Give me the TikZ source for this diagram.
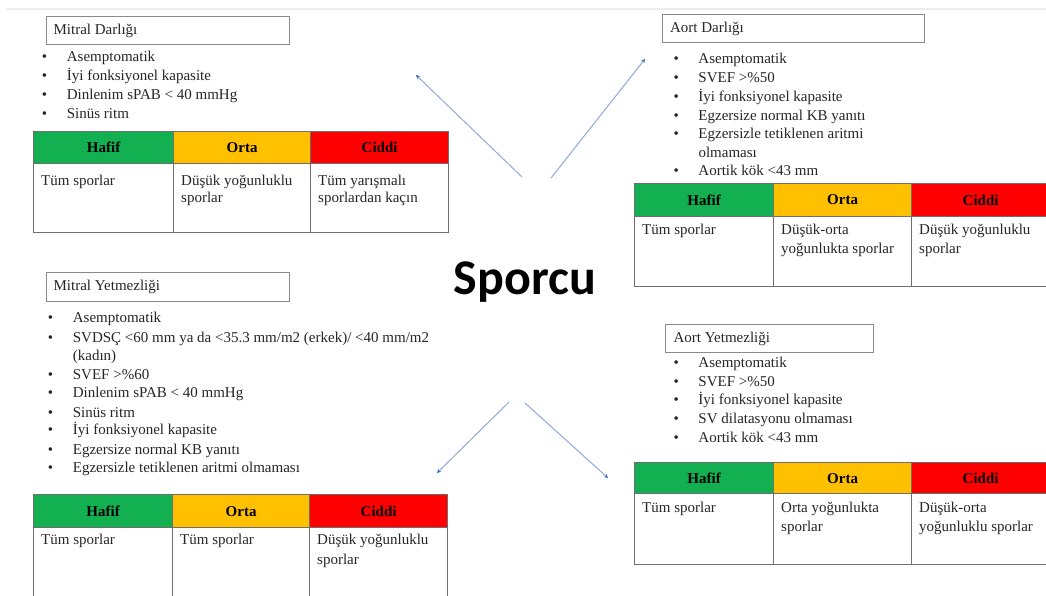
\documentclass[tikz,border=0pt]{standalone}
\usepackage{fontspec}
\setmainfont{Liberation Serif}
\newfontfamily\sporcufont{Carlito}
\usetikzlibrary{arrows.meta}
\definecolor{hgreen}{HTML}{12B050}
\definecolor{horange}{HTML}{FFC000}
\definecolor{hred}{HTML}{FF0000}
\definecolor{gridc}{HTML}{6E6E6E}
\definecolor{boxc}{HTML}{8A8A8A}
\definecolor{arrowc}{HTML}{8EA9DB}
\definecolor{tipc}{HTML}{3E6BC4}
\definecolor{topline}{HTML}{ECECEC}
\newcommand\bitem[1]{\makebox[25pt][l]{•}#1}
\tikzset{
  body/.style={font=\fontsize{15}{19}\selectfont, inner sep=0pt, anchor=base west, text=black!85},
  titlebox/.style={draw=boxc, line width=1.3pt, anchor=north west, inner xsep=7pt, inner ysep=0pt,
    text=black!85, font=\fontsize{15}{18}\selectfont},
  hdr/.style={draw=gridc, line width=1.2pt, anchor=north west, inner sep=0pt,
    font=\bfseries\fontsize{15}{18}\selectfont, text=black},
  cell/.style={draw=gridc, line width=1.2pt, anchor=north west, inner sep=0pt},
  link/.style={draw=arrowc, line width=1pt, -{Stealth[length=4pt,width=4pt,color=tipc]}},
}
\begin{document}
\begin{tikzpicture}[x=1pt,y=-1pt]
\useasboundingbox (0,0) rectangle (1046,595);
\clip (0,0) rectangle (1046,595);
\fill[white] (0,0) rectangle (1046,595);

% faint top line
\coordinate (tl1) at (7,9);
\coordinate (tl2) at (1046,9);
\draw[topline, line width=1.5pt] (tl1) -- (tl2);

% centre
\node[font=\sporcufont\bfseries\fontsize{50}{60}\selectfont, anchor=base, inner sep=0pt] (sporcu) at (525,294) {Sporcu};

% ---------------- Mitral Darligi ----------------
\node[titlebox, minimum width=243pt, minimum height=28pt] (mdT) at (46,16) {\makebox[229pt][l]{Mitral Darlığı}};
\node[body] (md1) at (41.7,61) {\bitem{Asemptomatik}};
\node[body] (md2) at (41.7,80) {\bitem{İyi fonksiyonel kapasite}};
\node[body] (md3) at (41.7,99) {\bitem{Dinlenim sPAB < 40 mmHg}};
\node[body] (md4) at (41.7,118) {\bitem{Sinüs ritm}};
\node[hdr, fill=hgreen, minimum width=140pt, minimum height=32pt] (mdH1) at (33,131) {Hafif};
\node[hdr, fill=horange, minimum width=137pt, minimum height=32pt] (mdH2) at (173,131) {Orta};
\node[hdr, fill=hred, minimum width=138pt, minimum height=32pt] (mdH3) at (310,131) {Ciddi};
\node[cell, minimum width=140pt, minimum height=69pt] (mdB1) at (33,163) {};
\node[cell, minimum width=137pt, minimum height=69pt] (mdB2) at (173,163) {};
\node[cell, minimum width=138pt, minimum height=69pt] (mdB3) at (310,163) {};
\node[body] (mdt1) at (41,185.5) {Tüm sporlar};
\node[body] (mdt2a) at (181,185.5) {Düşük yoğunluklu};
\node[body] (mdt2b) at (181,202.5) {sporlar};
\node[body] (mdt3a) at (318,185.5) {Tüm yarışmalı};
\node[body] (mdt3b) at (318,202.5) {sporlardan kaçın};

% ---------------- Aort Darligi ----------------
\node[titlebox, minimum width=262pt, minimum height=28pt, inner xsep=7.5pt] (adT) at (662,14) {\makebox[247pt][l]{Aort Darlığı}};
\node[body] (ad1) at (673.3,63.5) {\bitem{Asemptomatik}};
\node[body] (ad2) at (673.3,82.5) {\bitem{SVEF >\%50}};
\node[body] (ad3) at (673.3,101.5) {\bitem{İyi fonksiyonel kapasite}};
\node[body] (ad4) at (673.3,120.5) {\bitem{Egzersize normal KB yanıtı}};
\node[body] (ad5) at (673.3,138.5) {\bitem{Egzersizle tetiklenen aritmi}};
\node[body] (ad5b) at (698.3,157.5) {olmaması};
\node[body] (ad6) at (673.3,175.5) {\bitem{Aortik kök <43 mm}};
\node[hdr, fill=hgreen, minimum width=139pt, minimum height=33pt] (adH1) at (634,183) {Hafif};
\node[hdr, fill=horange, minimum width=138pt, minimum height=33pt] (adH2) at (773,183) {Orta};
\node[hdr, fill=hred, minimum width=138pt, minimum height=33pt] (adH3) at (911,183) {Ciddi};
\node[cell, minimum width=139pt, minimum height=70pt] (adB1) at (634,216) {};
\node[cell, minimum width=138pt, minimum height=70pt] (adB2) at (773,216) {};
\node[cell, minimum width=138pt, minimum height=70pt] (adB3) at (911,216) {};
\node[body] (adt1) at (642,234.5) {Tüm sporlar};
\node[body] (adt2a) at (781,234.5) {Düşük-orta};
\node[body] (adt2b) at (781,253.5) {yoğunlukta sporlar};
\node[body] (adt3a) at (919,234.5) {Düşük yoğunluklu};
\node[body] (adt3b) at (919,253.5) {sporlar};

% ---------------- Mitral Yetmezligi ----------------
\node[titlebox, minimum width=243pt, minimum height=29pt] (myT) at (46,272) {\makebox[229pt][l]{Mitral Yetmezliği}};
\node[body] (my1) at (47.7,322.5) {\bitem{Asemptomatik}};
\node[body] (my2) at (47.7,342.5) {\bitem{SVDSÇ <60 mm ya da <35.3 mm/m2 (erkek)/ <40 mm/m2}};
\node[body] (my2b) at (72.7,360.5) {(kadın)};
\node[body] (my3) at (47.7,379.5) {\bitem{SVEF >\%60}};
\node[body] (my4) at (47.7,397.5) {\bitem{Dinlenim sPAB < 40 mmHg}};
\node[body] (my5) at (47.7,417.5) {\bitem{Sinüs ritm}};
\node[body] (my6) at (47.7,434.5) {\bitem{İyi fonksiyonel kapasite}};
\node[body] (my7) at (47.7,454.5) {\bitem{Egzersize normal KB yanıtı}};
\node[body] (my8) at (47.7,472.5) {\bitem{Egzersizle tetiklenen aritmi olmaması}};
\node[hdr, fill=hgreen, minimum width=139pt, minimum height=33pt] (myH1) at (33,494) {Hafif};
\node[hdr, fill=horange, minimum width=137pt, minimum height=33pt] (myH2) at (172,494) {Orta};
\node[hdr, fill=hred, minimum width=138pt, minimum height=33pt] (myH3) at (309,494) {Ciddi};
\node[cell, minimum width=139pt, minimum height=90pt] (myB1) at (33,527) {};
\node[cell, minimum width=137pt, minimum height=90pt] (myB2) at (172,527) {};
\node[cell, minimum width=138pt, minimum height=90pt] (myB3) at (309,527) {};
\node[body] (myt1) at (41,544.5) {Tüm sporlar};
\node[body] (myt2) at (180,544.5) {Tüm sporlar};
\node[body] (myt3a) at (317,544.5) {Düşük yoğunluklu};
\node[body] (myt3b) at (317,564) {sporlar};

% ---------------- Aort Yetmezligi ----------------
\node[titlebox, minimum width=208pt, minimum height=28pt, inner xsep=8pt] (ayT) at (665,324) {\makebox[192pt][l]{Aort Yetmezliği}};
\node[body] (ay1) at (673.3,367.5) {\bitem{Asemptomatik}};
\node[body] (ay2) at (673.3,386.5) {\bitem{SVEF >\%50}};
\node[body] (ay3) at (673.3,404.5) {\bitem{İyi fonksiyonel kapasite}};
\node[body] (ay4) at (673.3,423.5) {\bitem{SV dilatasyonu olmaması}};
\node[body] (ay5) at (673.3,442.5) {\bitem{Aortik kök <43 mm}};
\node[hdr, fill=hgreen, minimum width=139pt, minimum height=31pt] (ayH1) at (634,462) {Hafif};
\node[hdr, fill=horange, minimum width=138pt, minimum height=31pt] (ayH2) at (773,462) {Orta};
\node[hdr, fill=hred, minimum width=138pt, minimum height=31pt] (ayH3) at (911,462) {Ciddi};
\node[cell, minimum width=139pt, minimum height=71pt] (ayB1) at (634,493) {};
\node[cell, minimum width=138pt, minimum height=71pt] (ayB2) at (773,493) {};
\node[cell, minimum width=138pt, minimum height=71pt] (ayB3) at (911,493) {};
\node[body] (ayt1) at (642,512.5) {Tüm sporlar};
\node[body] (ayt2a) at (781,512.5) {Orta yoğunlukta};
\node[body] (ayt2b) at (781,531.5) {sporlar};
\node[body] (ayt3a) at (919,512.5) {Düşük-orta};
\node[body] (ayt3b) at (919,531.5) {yoğunluklu sporlar};

% ---------------- arrows ----------------
\coordinate (a1s) at (522,177); \coordinate (a1e) at (416,75);
\coordinate (a2s) at (551,178); \coordinate (a2e) at (645,59);
\coordinate (a3s) at (509,402); \coordinate (a3e) at (437,473);
\coordinate (a4s) at (525,403); \coordinate (a4e) at (608,478);
\draw[link] (a1s) -- (a1e);
\draw[link] (a2s) -- (a2e);
\draw[link] (a3s) -- (a3e);
\draw[link] (a4s) -- (a4e);
\end{tikzpicture}
\end{document}
